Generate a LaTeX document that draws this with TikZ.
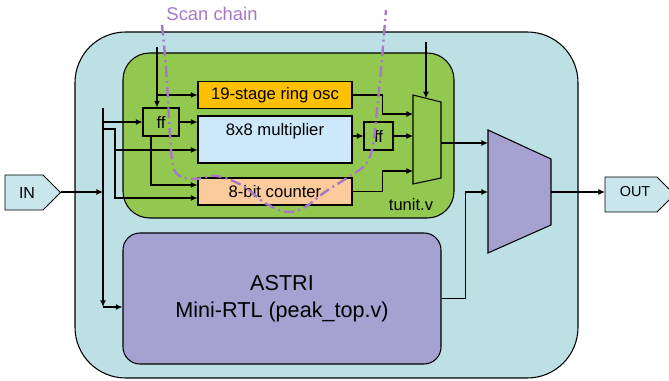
\documentclass[tikz,border=0pt]{standalone}
\usepackage{fontspec}
\setmainfont{Liberation Sans}
\usetikzlibrary{arrows.meta,positioning,calc}

\definecolor{shellblue}{RGB}{189,224,228}
\definecolor{tunitgreen}{RGB}{146,200,80}
\definecolor{ringorange}{RGB}{255,192,0}
\definecolor{multblue}{RGB}{204,232,250}
\definecolor{cntpeach}{RGB}{251,203,156}
\definecolor{astripurple}{RGB}{165,162,210}
\definecolor{portblue}{RGB}{200,230,236}
\definecolor{scanpurple}{RGB}{168,120,196}

\tikzset{
  boxline/.style={draw, line width=0.8pt, inner sep=0pt},
  blk/.style={boxline, font=\fontsize{12.5}{14}\selectfont},
  wire/.style={line width=0.8pt, -{Latex[length=5pt,width=4.5pt]}},
  bare/.style={line width=0.8pt},
  port/.style={draw, fill=portblue, line width=0.6pt},
  scan/.style={draw=scanpurple, line width=1.8pt, dash pattern=on 8pt off 3pt on 1.5pt off 3pt},
}

\begin{document}
\begin{tikzpicture}[x=0.75pt, y=-0.75pt]
\useasboundingbox (0,0) rectangle (669,381);

% containers
\node[boxline, fill=shellblue, rounded corners=38pt, minimum width=377.25pt, minimum height=259.5pt] (shell) at (326.5,205) {};
\node[boxline, fill=tunitgreen, rounded corners=20pt, minimum width=248.25pt, minimum height=123.75pt] (tunit) at (288.5,135.5) {};
\node[font=\fontsize{12.4}{14}\selectfont] (tunitlbl) at (411,205) {tunit.v};
\node[boxline, fill=astripurple, rounded corners=12.75pt, minimum width=238.5pt, minimum height=98.25pt,
      align=center, font=\fontsize{16.2}{20.2}\selectfont] (astri) at (282,298.5) {ASTRI\\Mini-RTL (peak\_top.v)};

% blocks inside tunit
\node[blk, fill=ringorange, minimum width=115.5pt, minimum height=20.25pt] (ring) at (275,95) {19-stage ring osc};
\node[blk, fill=multblue, minimum width=115.5pt, minimum height=35.25pt] (mult) at (275,139.5) {};
\node[font=\fontsize{12.5}{14}\selectfont] (multtxt) at (275,131) {8x8 multiplier};
\node[blk, fill=cntpeach, minimum width=115.5pt, minimum height=20.25pt] (counter) at (275,191.5) {8-bit counter};
\node[blk, fill=tunitgreen, minimum width=27pt, minimum height=21pt] (ffa) at (161,122) {ff};
\node[blk, fill=tunitgreen, minimum width=21.75pt, minimum height=21pt] (ffb) at (378.5,136) {ff};

% muxes
\draw[bare, fill=tunitgreen] (413,95) -- (441,102) -- (441,178) -- (413,184) -- cycle;
\draw[bare, fill=astripurple] (488,130) -- (551,159) -- (551,225) -- (488,253) -- cycle;
\coordinate (muxa) at (413,114);
\coordinate (muxb) at (413,136);
\coordinate (muxc) at (413,171);
\coordinate (muxsel) at (426,98.3);
\coordinate (muxout) at (441,143);
\coordinate (outmuxa) at (488,143);
\coordinate (outmuxb) at (488,192);
\coordinate (outmuxout) at (551,192);

% ports
\draw[port] (5,175) -- (43,175) -- (60.5,192.5) -- (43,210) -- (5,210) -- cycle;
\node[font=\fontsize{12}{14}\selectfont] (in) at (27,192.5) {IN};
\coordinate (intip) at (61,192);
\draw[port] (605,177) -- (657,177) -- (674.5,194.5) -- (657,212) -- (605,212) -- cycle;
\node[font=\fontsize{10.8}{13}\selectfont] (out) at (635,192) {OUT};
\coordinate (outin) at (605,192);

% wiring
\coordinate (bustop) at (103,108);
\coordinate (busbot) at (103,307);
\coordinate (split) at (115,129);
\coordinate (clkin) at (157,47);
\coordinate (selin) at (426,42);
\coordinate (mulb) at ($(mult.west)+(0,10.5)$);
\coordinate (cnta) at ($(counter.west)+(0,-6.5)$);
\coordinate (cntb) at ($(counter.west)+(0,6.5)$);

\draw[wire] (intip) -- (intip -| bustop);
\draw[wire] (bustop) -- (busbot);
\draw[wire] (busbot) -- (busbot -| astri.west);
\draw[wire] (ffa.west -| bustop) -- (ffa.west);
\draw[wire] (split -| bustop) -- (split) |- (cntb);
\draw[wire] (split |- mulb) -- (mulb);
\draw[wire] (clkin) -- (clkin |- ffa.north);
\draw[wire] (clkin |- ring.west) -- (ring.west);
\draw[wire] (ffa.east) -- (ffa.east -| mult.west);
\draw[wire] ($(ffa.south)+(-10,0)$) |- (cnta);
\draw[wire] (ring.east) -- ++(30,0) |- (muxa);
\draw[wire] (mult.east |- ffb.west) -- (ffb.west);
\draw[wire] (ffb.east) -- (muxb);
\draw[wire] (counter.east) -- ++(30,0) |- (muxc);
\draw[wire] (selin) -- (muxsel);
\draw[wire] (muxout) -- (outmuxa);
\draw[wire] (astri.east) -- ++(24,0) |- (outmuxb);
\draw[wire] (outmuxout) -- (outin);

% scan chain
\draw[scan] plot[smooth, tension=0.6] coordinates {(162,25) (166,67) (169,117) (172,160) (178,175) (195,179) (217,176) (243,186) (265,203) (287,212) (305,207) (325,192) (350,176) (366,164) (373,145) (377,110) (381,70) (386,10)};
\node[text=scanpurple, font=\fontsize{13.8}{16}\selectfont] (scanlbl) at (212,14) {Scan chain};
\end{tikzpicture}
\end{document}
